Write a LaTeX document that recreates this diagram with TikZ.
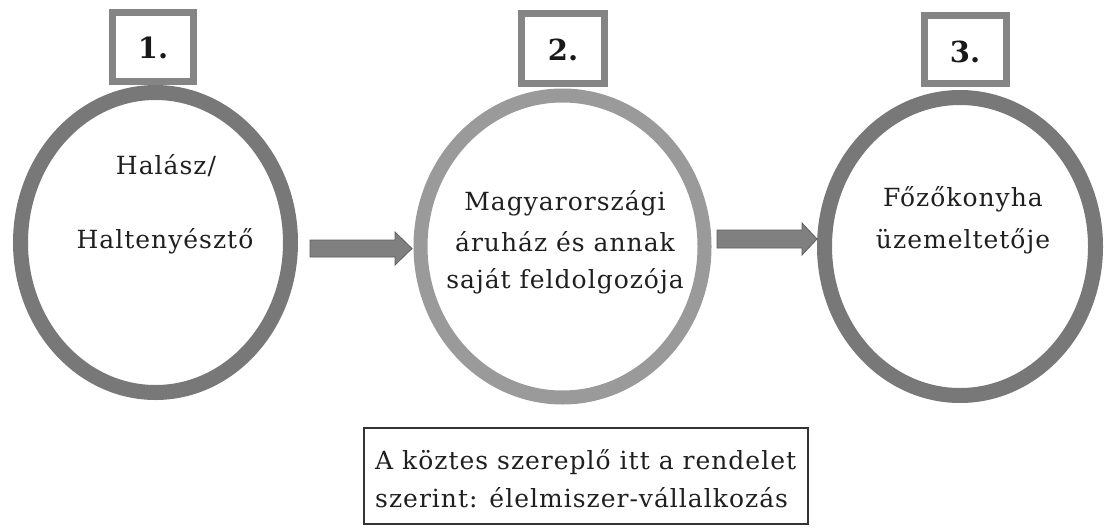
\documentclass[tikz,border=0pt]{standalone}
\usepackage{fontspec}
\setmainfont{DejaVu Serif}
\newfontfamily\spfont[LetterSpace=4]{DejaVu Serif}
\usetikzlibrary{shapes.geometric}
\definecolor{ringdark}{HTML}{787878}
\definecolor{ringlight}{HTML}{9A9A9A}
\definecolor{boxgray}{HTML}{858585}
\definecolor{arrowfill}{HTML}{808080}
\definecolor{arrowedge}{HTML}{5E5E5E}
\tikzset{
  ring/.style={ellipse, draw, inner sep=0pt, line width=15pt},
  numbox/.style={draw=boxgray, line width=7pt, fill=white},
  numtext/.style={font=\fontsize{29}{32}\selectfont\bfseries, text=black!90},
  lbl/.style={font=\spfont\fontsize{25}{30}\selectfont, text=black!88, inner sep=0pt},
  blockarrow/.style={fill=arrowfill, draw=arrowedge, line width=0.8pt},
}
\begin{document}
\begin{tikzpicture}[x=1pt, y=-1pt]
\useasboundingbox (0,0) rectangle (1107,527);
% rings
\node[ring, draw=ringdark, minimum width=270pt, minimum height=300pt] (c1) at (155.5,242.5) {};
\node[ring, draw=ringlight, line width=14pt, minimum width=284pt, minimum height=302pt] (c2) at (562.5,246.5) {};
\node[ring, draw=ringdark, minimum width=271pt, minimum height=298pt] (c3) at (960,246.5) {};
% number boxes
\draw[numbox] (112.5,12.5) rectangle (193.5,81.5);
\draw[numbox] (521.5,13.5) rectangle (604.5,83.5);
\draw[numbox] (924.5,15.5) rectangle (1006.5,83.5);
\node[numtext] (n1) at (153,48) {1.};
\node[numtext] (n2) at (563,50) {2.};
\node[numtext] (n3) at (965,52) {3.};
% texts in rings
\node[lbl] (t1a) at (166,166) {Halász/};
\node[lbl] (t1b) at (165,241) {Haltenyésztő};
\node[lbl] (t2a) at (565,203) {Magyarországi};
\node[lbl] (t2b) at (565,242) {áruház és annak};
\node[lbl] (t2c) at (565,281) {saját feldolgozója};
\node[lbl] (t3a) at (963,199) {Főzőkonyha};
\node[lbl] (t3b) at (963,241) {üzemeltetője};
% block arrows
\draw[blockarrow] (310,240) -- (395,240) -- (395,232) -- (412,248.5) -- (395,265) -- (395,257) -- (310,257) -- cycle;
\draw[blockarrow] (717,230) -- (802,230) -- (802,223) -- (817,239) -- (802,255) -- (802,248) -- (717,248) -- cycle;
% bottom box
\node[draw=black!80, line width=1.2pt, minimum width=444pt, minimum height=96pt, inner sep=0pt] (note) at (586,476) {};
\node[lbl, anchor=west] (n1l) at (375,462) {A köztes szereplő itt a rendelet};
\node[lbl, anchor=west] (n2l) at (375,498) {szerint: élelmiszer-vállalkozás};
\end{tikzpicture}
\end{document}
